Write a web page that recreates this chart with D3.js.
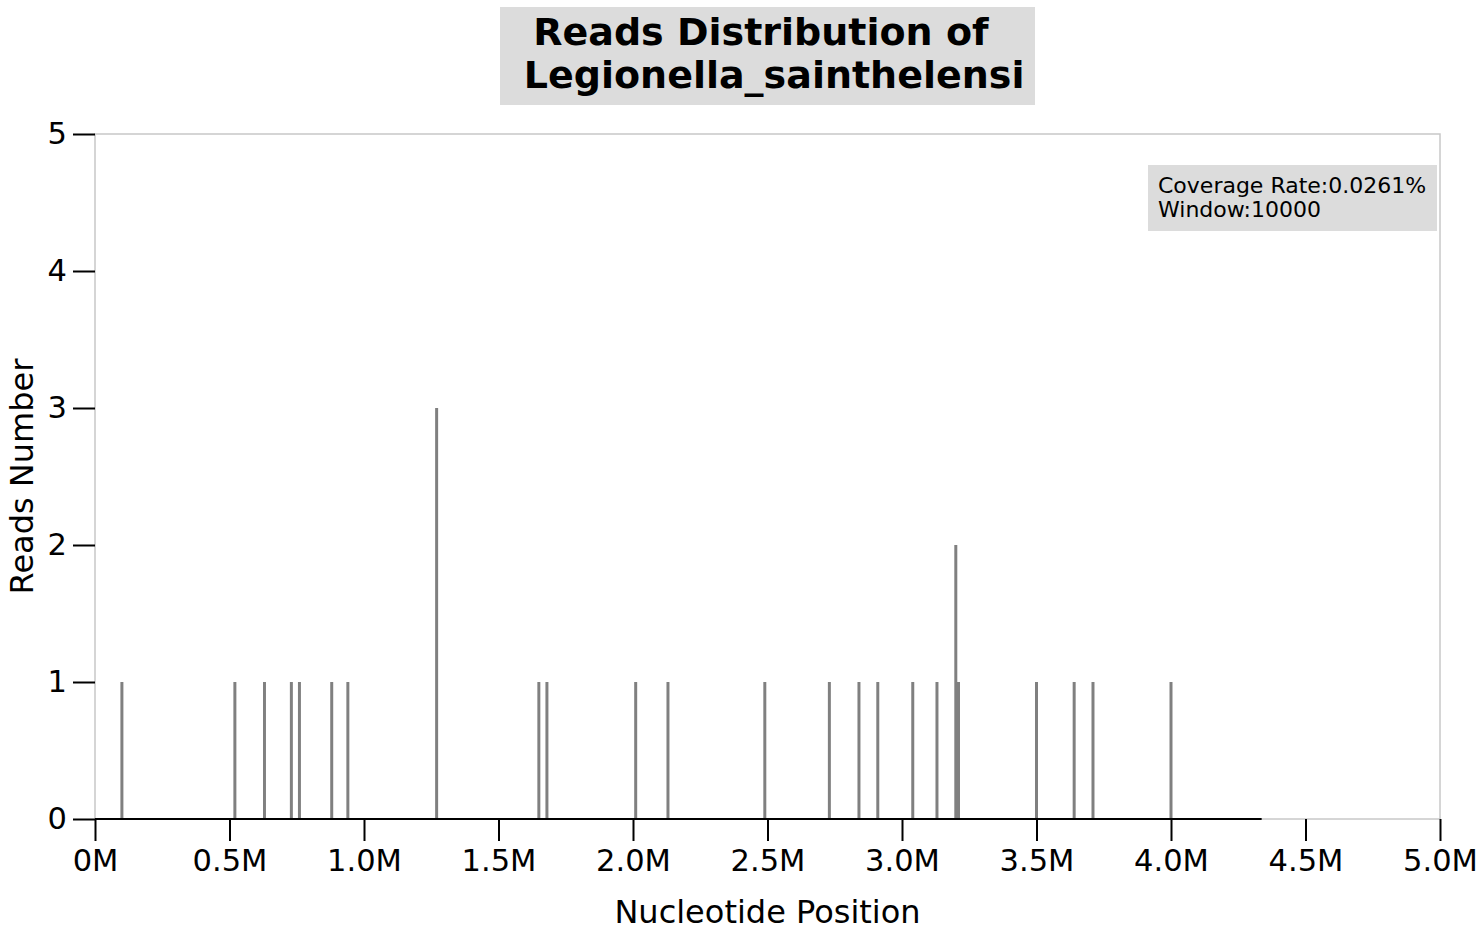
<!DOCTYPE html>
<html><head><meta charset="utf-8">
<script src="https://cdn.jsdelivr.net/npm/d3@7"></script>
<style>
body{margin:0;background:#fff;}
text{font-family:"DejaVu Sans",sans-serif;}
</style></head>
<body><svg id="c" width="1484" height="931"></svg>
<script>
const positions = [100000,520000,630000,730000,760000,880000,940000,1270000,1650000,1680000,2010000,2130000,2490000,2730000,2840000,2910000,3040000,3130000,3200000,3210000,3500000,3640000,3710000,4000000];
const reads     = [1,1,1,1,1,1,1,3,1,1,1,1,1,1,1,1,1,1,2,1,1,1,1,1];
const genomeLength = 4337000;
const xTickValues = [0,500000,1000000,1500000,2000000,2500000,3000000,3500000,4000000,4500000,5000000];
const xTickLabels = ["0M","0.5M","1.0M","1.5M","2.0M","2.5M","3.0M","3.5M","4.0M","4.5M","5.0M"];
const yTickValues = [0,1,2,3,4,5];
const titleLines = ["Reads Distribution of ", " Legionella_sainthelensi"];
const infoLines = ["Coverage Rate:0.0261%", "Window:10000"];

const svg = d3.select("#c");
const L=95, R=1440, T=134, B=819;
const x = d3.scaleLinear().domain([0,5000000]).range([L,R]);
const y = d3.scaleLinear().domain([0,5]).range([B,T]);

// frame
svg.append("rect").attr("x",L).attr("y",T).attr("width",R-L).attr("height",B-T)
  .attr("fill","none").attr("stroke","#c8c8c8").attr("stroke-width",1.5);

// bars
svg.append("g").selectAll("line").data(positions).join("line")
  .attr("x1",(d)=>x(d)).attr("x2",(d)=>x(d))
  .attr("y1",y(0)).attr("y2",(d,i)=>y(reads[i]))
  .attr("stroke","#808080").attr("stroke-width",3);

// baseline
svg.append("line").attr("x1",x(0)).attr("x2",x(genomeLength)).attr("y1",y(0)).attr("y2",y(0))
  .attr("stroke","#000").attr("stroke-width",2);

// axes
const xa = svg.append("g").attr("transform",`translate(0,${B})`)
  .call(d3.axisBottom(x).tickValues(xTickValues).tickFormat((d,i)=>xTickLabels[i]).tickSize(22).tickPadding(8));
const ya = svg.append("g").attr("transform",`translate(${L},0)`)
  .call(d3.axisLeft(y).tickValues(yTickValues).tickFormat(d3.format("d")).tickSize(22).tickPadding(6));
[xa,ya].forEach(a=>{
  a.select(".domain").remove();
  a.selectAll(".tick line").attr("stroke","#000").attr("stroke-width",2);
  a.selectAll(".tick text").attr("font-family","DejaVu Sans").attr("font-size",30.5).attr("fill","#000");
});

// axis labels
svg.append("text").attr("x",(L+R)/2).attr("y",923).attr("text-anchor","middle")
  .attr("font-size",32).text("Nucleotide Position");
svg.append("text").attr("transform",`translate(33,${(T+B)/2}) rotate(-90)`).attr("text-anchor","middle")
  .attr("font-size",32).text("Reads Number");

// title
svg.append("rect").attr("x",500).attr("y",7).attr("width",535).attr("height",98).attr("fill","#dcdcdc");
const tt = svg.append("text").attr("text-anchor","middle").attr("font-size",38).attr("font-weight","bold")
  .style("white-space","pre");
titleLines.forEach((s,i)=>tt.append("tspan").attr("x",(L+R)/2).attr("y",45+i*43).text(s));

// info box
svg.append("rect").attr("x",1148).attr("y",165).attr("width",289).attr("height",66).attr("fill","#dcdcdc");
const it = svg.append("text").attr("font-size",22);
infoLines.forEach((s,i)=>it.append("tspan").attr("x",1158).attr("y",193+i*24).text(s));
</script></body></html>
